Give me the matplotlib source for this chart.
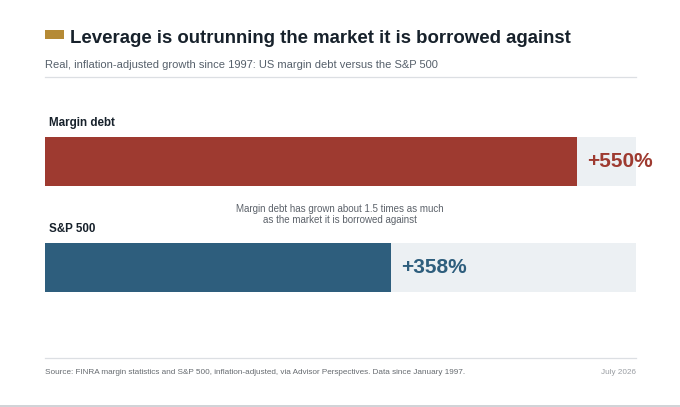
import matplotlib
matplotlib.use("Agg")
import matplotlib.pyplot as plt
from matplotlib.patches import Rectangle
from matplotlib.lines import Line2D

plt.rcParams['font.family'] = ['Liberation Sans', 'DejaVu Sans']

categories = ["Margin debt", "S&P 500"]
values = [550, 358]
value_labels = ["+550%", "+358%"]
colors = ["#9e3a30", "#2e5e7d"]
axis_max = 611

W, H = 680, 407
fig = plt.figure(figsize=(W / 100, H / 100), dpi=100)
fig.patch.set_facecolor("white")

def fx(px):
    return px / W

def fy(py):
    return 1 - py / H

# Title block
fig.patches.append(Rectangle((fx(45), fy(38.5)), fx(19), 8 / H, transform=fig.transFigure,
                             facecolor="#b58a35", edgecolor="none"))
fig.text(fx(70), fy(38.5), "Leverage is outrunning the market it is borrowed against",
         fontsize=13.4, fontweight="bold", color="#17212b", va="center", ha="left")
fig.text(fx(45), fy(64.5), "Real, inflation-adjusted growth since 1997: US margin debt versus the S&P 500",
         fontsize=8.0, color="#56606b", va="center", ha="left")
fig.add_artist(Line2D([fx(45), fx(636)], [fy(77), fy(77)], transform=fig.transFigure,
                      color="#dcdfe3", lw=0.9))

# Bars
ax = fig.add_axes([fx(45), fy(292), fx(636) - fx(45), (292 - 137) / H])
ypos = list(range(len(categories)))
bh = 0.458
ax.barh(ypos, [axis_max] * len(values), height=bh, color="#ecf0f3", edgecolor="none")
ax.barh(ypos, values, height=bh, color=colors, edgecolor="none")
ax.set_xlim(0, axis_max)
ax.set_ylim(1 + bh / 2, -bh / 2)
ax.axis("off")

for i, (v, lab, c) in enumerate(zip(values, value_labels, colors)):
    ax.annotate(lab, xy=(v, i), xytext=(10, 0), textcoords="offset pixels",
                fontsize=15, fontweight="bold", color=c, va="center", ha="left")
    ax.annotate(categories[i], xy=(0, i - bh / 2), xytext=(4, 14.5), textcoords="offset pixels",
                fontsize=8.4, fontweight="bold", color="#17212b", va="center", ha="left")

fig.text(fx(340), fy(214.5), "Margin debt has grown about 1.5 times as much\nas the market it is borrowed against",
         fontsize=7.0, color="#5c626a", va="center", ha="center", linespacing=1.15)

# Footer
fig.add_artist(Line2D([fx(45), fx(636)], [fy(358), fy(358)], transform=fig.transFigure,
                      color="#dcdfe3", lw=0.9))
fig.text(fx(45), fy(372), "Source: FINRA margin statistics and S&P 500, inflation-adjusted, via Advisor Perspectives. Data since January 1997.",
         fontsize=5.9, color="#666b70", va="center", ha="left")
fig.text(fx(636), fy(372), "July 2026", fontsize=5.9, color="#9a9ea3", va="center", ha="right")
fig.add_artist(Line2D([0, 1], [fy(405.5), fy(405.5)], transform=fig.transFigure,
                      color="#c8cbcf", lw=1.2))

fig.savefig("out.png", dpi=100, facecolor="white")
